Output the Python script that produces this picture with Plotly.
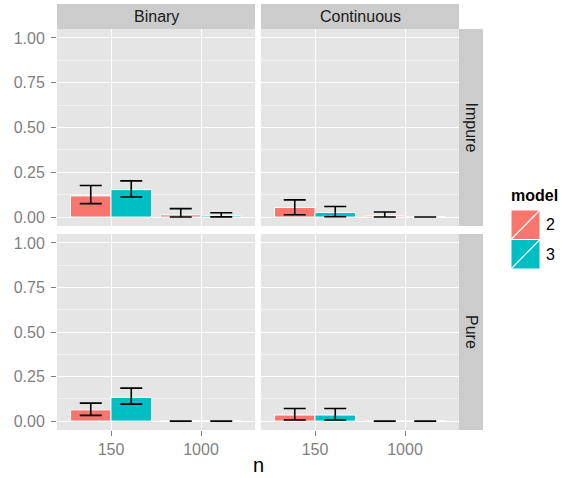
import plotly.graph_objects as go

# ---- data ----
n_levels = ["150", "1000"]
col_facets = ["Binary", "Continuous"]
row_facets = ["Impure", "Pure"]
models = ["2", "3"]

imp_bin_m2 = [0.118, 0.012]; imp_bin_m2_lo = [0.075, 0.000]; imp_bin_m2_hi = [0.176, 0.047]
imp_bin_m3 = [0.153, 0.007]; imp_bin_m3_lo = [0.112, 0.001]; imp_bin_m3_hi = [0.202, 0.024]
imp_con_m2 = [0.053, 0.006]; imp_con_m2_lo = [0.013, 0.000]; imp_con_m2_hi = [0.096, 0.028]
imp_con_m3 = [0.025, 0.000]; imp_con_m3_lo = [0.002, 0.000]; imp_con_m3_hi = [0.059, 0.000]
pur_bin_m2 = [0.063, 0.000]; pur_bin_m2_lo = [0.032, 0.000]; pur_bin_m2_hi = [0.101, 0.000]
pur_bin_m3 = [0.133, 0.000]; pur_bin_m3_lo = [0.095, 0.000]; pur_bin_m3_hi = [0.185, 0.000]
pur_con_m2 = [0.034, 0.000]; pur_con_m2_lo = [0.006, 0.000]; pur_con_m2_hi = [0.071, 0.000]
pur_con_m3 = [0.034, 0.000]; pur_con_m3_lo = [0.006, 0.000]; pur_con_m3_hi = [0.071, 0.000]

panels = [
    ("Impure", "Binary", "", [(imp_bin_m2, imp_bin_m2_lo, imp_bin_m2_hi), (imp_bin_m3, imp_bin_m3_lo, imp_bin_m3_hi)]),
    ("Impure", "Continuous", "2", [(imp_con_m2, imp_con_m2_lo, imp_con_m2_hi), (imp_con_m3, imp_con_m3_lo, imp_con_m3_hi)]),
    ("Pure", "Binary", "3", [(pur_bin_m2, pur_bin_m2_lo, pur_bin_m2_hi), (pur_bin_m3, pur_bin_m3_lo, pur_bin_m3_hi)]),
    ("Pure", "Continuous", "4", [(pur_con_m2, pur_con_m2_lo, pur_con_m2_hi), (pur_con_m3, pur_con_m3_lo, pur_con_m3_hi)]),
]

colors = ["#F8766D", "#00BFC4"]
FONT = "Arial, Liberation Sans, sans-serif"
W, H = 563, 478

def px(x):
    return x / W

def py(y):
    return (H - y) / H

fig = go.Figure()
for row, col, sfx, series in panels:
    for mi, (vals, lo, hi) in enumerate(series):
        fig.add_trace(go.Bar(
            x=n_levels, y=vals, name=models[mi], showlegend=False,
            marker=dict(color=colors[mi], line=dict(color="white", width=1)),
            offsetgroup=models[mi],
            error_y=dict(type="data", symmetric=False,
                         array=[h - v for h, v in zip(hi, vals)],
                         arrayminus=[v - l for v, l in zip(vals, lo)],
                         color="black", thickness=1.6, width=11),
            xaxis="x" + sfx, yaxis="y" + sfx,
        ))

# panel geometry (pixels)
xL = (57, 255)
xR = (261, 459)
yT = (29, 226)
yB = (234, 430)

tickfont = dict(family=FONT, size=16, color="#7F7F7F")

def xaxis(dom, show):
    return dict(domain=[px(dom[0]), px(dom[1])], type="category",
                range=[-0.6, 1.6], showgrid=True, gridcolor="white", gridwidth=1.2,
                zeroline=False, showline=False,
                ticks="outside" if show else "", ticklen=5, tickcolor="#7F7F7F", tickwidth=1.2,
                showticklabels=show, tickfont=tickfont, fixedrange=True)

def yaxis(dom, show, anchor):
    return dict(domain=[py(dom[1]), py(dom[0])], range=[-0.05, 1.05],
                tickvals=[0, 0.25, 0.5, 0.75, 1.0], tickformat=".2f",
                showgrid=True, gridcolor="white", gridwidth=1.2, zeroline=False, showline=False,
                minor=dict(tickvals=[0.125, 0.375, 0.625, 0.875], showgrid=True,
                           gridcolor="#F2F2F2", gridwidth=0.6, ticks=""),
                ticks="outside" if show else "", ticklen=5, tickcolor="#7F7F7F", tickwidth=1.2,
                showticklabels=show, tickfont=tickfont, ticklabelstandoff=3,
                anchor=anchor, fixedrange=True)

shapes = []
for xd in (xL, xR):
    for yd in (yT, yB):
        shapes.append(dict(type="rect", xref="paper", yref="paper", layer="below",
                           x0=px(xd[0]), x1=px(xd[1]), y0=py(yd[1]), y1=py(yd[0]),
                           fillcolor="#E5E5E5", line=dict(width=0)))
STRIP = "#CCCCCC"
for xd in (xL, xR):
    shapes.append(dict(type="rect", xref="paper", yref="paper", layer="below",
                       x0=px(xd[0]), x1=px(xd[1]), y0=py(29), y1=py(4),
                       fillcolor=STRIP, line=dict(width=0)))
for yd in (yT, yB):
    shapes.append(dict(type="rect", xref="paper", yref="paper", layer="below",
                       x0=px(459), x1=px(483), y0=py(yd[1]), y1=py(yd[0]),
                       fillcolor=STRIP, line=dict(width=0)))

annotations = []
for xd, lab in zip((xL, xR), col_facets):
    annotations.append(dict(text=lab, xref="paper", yref="paper", showarrow=False,
                            x=px((xd[0] + xd[1]) / 2), y=py(16.5), xanchor="center", yanchor="middle",
                            font=dict(family=FONT, size=16, color="#1A1A1A")))
for yd, lab in zip((yT, yB), row_facets):
    annotations.append(dict(text=lab, xref="paper", yref="paper", showarrow=False, textangle=90,
                            x=px(471), y=py((yd[0] + yd[1]) / 2), xanchor="center", yanchor="middle",
                            font=dict(family=FONT, size=16, color="#1A1A1A")))
annotations.append(dict(text="n", xref="paper", yref="paper", showarrow=False,
                        x=px(258), y=py(465), xanchor="center", yanchor="middle",
                        font=dict(family=FONT, size=20, color="black")))

annotations.append(dict(text="<b>model</b>", xref="paper", yref="paper", showarrow=False,
                        x=px(509), y=py(196), xanchor="left", yanchor="middle",
                        font=dict(family=FONT, size=16, color="black")))
key_x0, key_x1 = 511, 540
for i, (m, c) in enumerate(zip(models, colors)):
    ky0 = 210 + i * 29.5
    ky1 = ky0 + 29.5
    shapes.append(dict(type="rect", xref="paper", yref="paper",
                       x0=px(key_x0), x1=px(key_x1), y0=py(ky1), y1=py(ky0),
                       fillcolor=c, line=dict(color="white", width=1)))
    shapes.append(dict(type="line", xref="paper", yref="paper",
                       x0=px(key_x0), x1=px(key_x1), y0=py(ky1), y1=py(ky0),
                       line=dict(color="white", width=1.2)))
    annotations.append(dict(text=m, xref="paper", yref="paper", showarrow=False,
                            x=px(544), y=py((ky0 + ky1) / 2), xanchor="left", yanchor="middle",
                            font=dict(family=FONT, size=16, color="black")))

fig.update_layout(
    width=W, height=H, margin=dict(l=0, r=0, t=0, b=0),
    paper_bgcolor="white", plot_bgcolor="rgba(0,0,0,0)",
    barmode="group", bargap=0.1, bargroupgap=0,
    showlegend=False,
    xaxis=xaxis(xL, False), yaxis=yaxis(yT, True, "x"),
    xaxis2=xaxis(xR, False), yaxis2=yaxis(yT, False, "x2"),
    xaxis3=xaxis(xL, True), yaxis3=yaxis(yB, True, "x3"),
    xaxis4=xaxis(xR, True), yaxis4=yaxis(yB, False, "x4"),
    shapes=shapes, annotations=annotations,
)
fig.update_layout(xaxis=dict(anchor="y"), xaxis2=dict(anchor="y2"),
                  xaxis3=dict(anchor="y3"), xaxis4=dict(anchor="y4"))

fig.write_html(
    "out.html",
    config={"displayModeBar": False},
    post_script="document.body.style.margin='0';document.body.style.overflow='hidden';",
)
